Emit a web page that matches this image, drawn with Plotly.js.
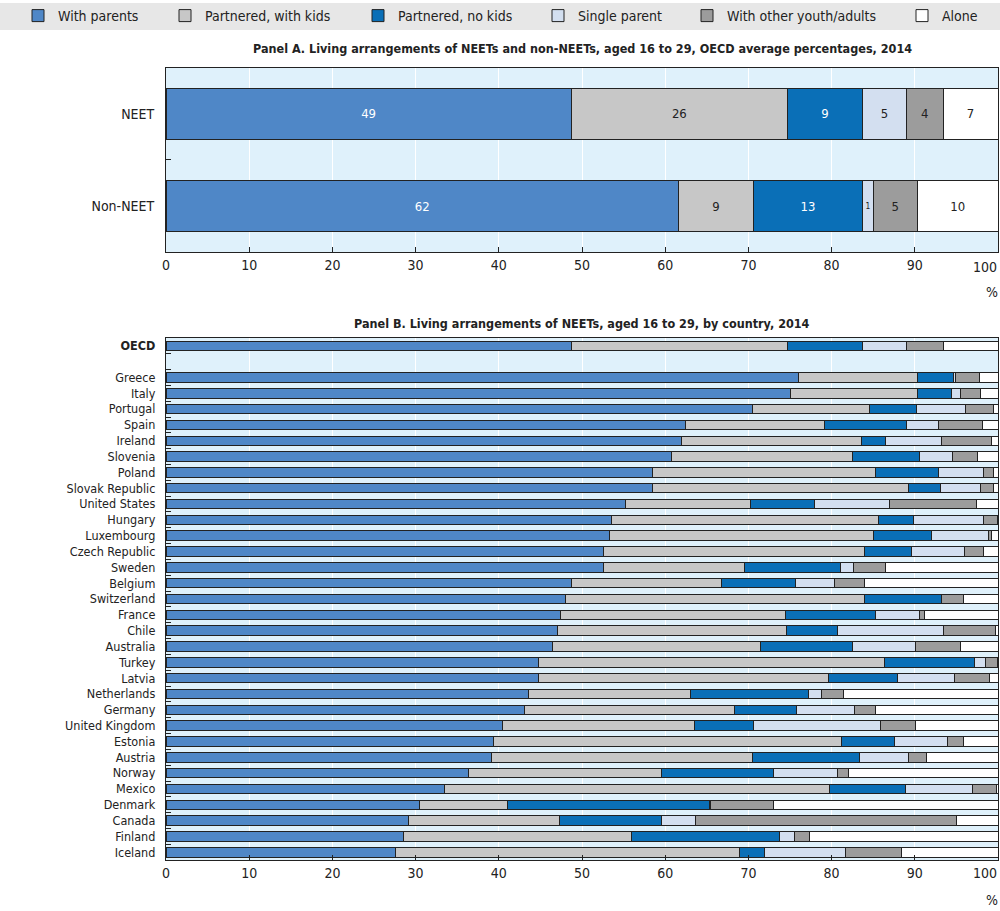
<!DOCTYPE html>
<html>
<head>
<meta charset="utf-8">
<script src="https://cdn.plot.ly/plotly-3.0.1.min.js"></script>
<style>html,body{margin:0;padding:0;background:#fff}#chart{width:1000px;height:911px}</style>
</head>
<body>
<div id="chart"></div>
<script>
// ---------- DATA ----------
const seriesNames = ["With parents", "Partnered, with kids", "Partnered, no kids", "Single parent", "With other youth/adults", "Alone"];

// Panel A
const groupsA = ["NEET", "Non-NEET"];
const aWithParents     = [48.7, 61.6];
const aPartneredKids   = [26.0, 9.0];
const aPartneredNoKids = [9.0, 13.1];
const aSingleParent    = [5.3, 1.3];
const aOtherAdults     = [4.4, 5.3];
const aAlone           = [6.6, 9.7];

// Panel B
const countries = ["OECD", "Greece", "Italy", "Portugal", "Spain", "Ireland", "Slovenia", "Poland", "Slovak Republic", "United States", "Hungary", "Luxembourg", "Czech Republic", "Sweden", "Belgium", "Switzerland", "France", "Chile", "Australia", "Turkey", "Latvia", "Netherlands", "Germany", "United Kingdom", "Estonia", "Austria", "Norway", "Mexico", "Denmark", "Canada", "Finland", "Iceland"];
const bWithParents     = [48.7, 76.0, 75.0, 70.5, 62.4, 62.0, 60.8, 58.5, 58.5, 55.2, 53.6, 53.3, 52.6, 52.6, 48.7, 48.0, 47.4, 47.0, 46.4, 44.8, 44.8, 43.6, 43.1, 40.4, 39.4, 39.1, 36.3, 33.5, 30.5, 29.2, 28.6, 27.6];
const bPartneredKids   = [26.0, 14.3, 15.3, 14.1, 16.8, 21.6, 21.7, 26.8, 30.8, 15.1, 32.0, 31.7, 31.4, 16.9, 18.1, 35.9, 27.1, 27.6, 25.1, 41.6, 34.8, 19.5, 25.2, 23.1, 41.8, 31.4, 23.2, 46.2, 10.5, 18.1, 27.3, 41.3];
const bPartneredNoKids = [9.0, 4.3, 4.1, 5.6, 9.8, 2.9, 8.1, 7.6, 3.8, 7.6, 4.3, 7.0, 5.6, 11.6, 8.9, 9.3, 10.8, 6.1, 11.0, 10.8, 8.3, 14.1, 7.5, 7.1, 6.3, 12.8, 13.5, 9.2, 24.3, 12.3, 17.8, 3.0];
const bSingleParent    = [5.3, 0.3, 1.1, 5.9, 3.9, 6.7, 3.9, 5.3, 4.8, 9.1, 8.4, 6.8, 6.4, 1.5, 4.7, 0.0, 5.3, 12.8, 7.6, 1.3, 6.9, 1.6, 6.9, 15.3, 6.4, 5.9, 7.7, 8.0, 0.2, 4.1, 1.9, 9.8];
const bOtherAdults     = [4.4, 2.9, 2.4, 3.4, 5.2, 6.0, 3.0, 1.3, 1.6, 10.4, 1.6, 0.4, 2.3, 3.9, 3.6, 2.7, 0.6, 6.2, 5.4, 1.4, 4.2, 2.6, 2.6, 4.2, 2.0, 2.2, 1.3, 2.9, 7.5, 31.3, 1.8, 6.7];
const bAlone           = [6.6, 2.2, 2.1, 0.5, 1.9, 0.8, 2.5, 0.5, 0.5, 2.6, 0.1, 0.8, 1.7, 13.5, 16.0, 4.1, 8.8, 0.3, 4.5, 0.1, 1.0, 18.6, 14.7, 9.9, 4.1, 8.6, 18.0, 0.2, 27.0, 5.0, 22.6, 11.6];

const xTicks = [0, 10, 20, 30, 40, 50, 60, 70, 80, 90, 100];

// ---------- STYLE ----------
const colors = ["#4f87c7", "#c7c7c7", "#0a6fb7", "#d3dff0", "#9c9c9c", "#ffffff"];
const textColors = ["#ffffff", "#222222", "#ffffff", "#222222", "#222222", "#222222"];
const FONT = "'DejaVu Sans Condensed', 'Liberation Sans Narrow', 'Arial Narrow', sans-serif";
const W = 1000, H = 911, L = 166, R = 2, PW = W - L - R;
const px2x = p => (p - L) / PW;
const py2y = p => 1 - p / H;
const xMax = xTicks[xTicks.length - 1];
// the last tick label is drawn as a right-aligned annotation so it stays inside the picture
const xTickText = xTicks.map(v => v === xMax ? "" : String(v));

const seriesA = [aWithParents, aPartneredKids, aPartneredNoKids, aSingleParent, aOtherAdults, aAlone];
const seriesB = [bWithParents, bPartneredKids, bPartneredNoKids, bSingleParent, bOtherAdults, bAlone];

// Panel B categories: bold OECD, blank row, then countries
const BLANK = " ";
const yB = [];
countries.forEach((c, i) => { yB.push(c === "OECD" ? "<b>OECD</b>" : c); if (i === 0) yB.push(BLANK); });
function withBlank(arr) { const out = []; arr.forEach((v, i) => { out.push(v); if (i === 0) out.push(null); }); return out; }

const legendNames = ["legend", "legend2", "legend3", "legend4", "legend5", "legend6"];
const traces = [];
seriesA.forEach((vals, k) => {
  traces.push({
    type: "bar", orientation: "h", name: seriesNames[k],
    y: groupsA, x: vals, xaxis: "x", yaxis: "y",
    width: 0.56,
    marker: { color: colors[k], line: { color: "#222", width: 1 } },
    text: vals.map(v => String(Math.round(v))),
    textposition: "inside", insidetextanchor: "middle",
    textfont: { family: FONT, size: 13, color: textColors[k] },
    legend: legendNames[k], showlegend: true,
    hoverinfo: "x+y+name"
  });
});
seriesB.forEach((vals, k) => {
  traces.push({
    type: "bar", orientation: "h", name: seriesNames[k],
    y: yB, x: withBlank(vals), xaxis: "x2", yaxis: "y2",
    width: 0.6,
    marker: { color: colors[k], line: { color: "#222", width: 1 } },
    textposition: "none",
    showlegend: false,
    hoverinfo: "x+y+name"
  });
});

// legend positions (px of symbol centre)
const legendX = [38, 185, 378, 558, 707, 922];
const legends = {};
legendNames.forEach((ln, k) => {
  legends[ln] = {
    orientation: "h", x: px2x(legendX[k] - 20), xanchor: "left",
    y: py2y(13), yanchor: "middle",
    bgcolor: "rgba(0,0,0,0)", borderwidth: 0,
    font: { family: FONT, size: 14, color: "#222" },
    itemwidth: 30, itemclick: false, itemdoubleclick: false
  };
});

const gridStyle = { showgrid: true, gridcolor: "#ffffff", gridwidth: 1 };
const axisLine = { showline: true, linecolor: "#222", linewidth: 1, mirror: true };
const tickFont = { family: FONT, size: 14, color: "#222" };

const layout = Object.assign({
  width: W, height: H,
  margin: { l: L, r: R, t: 0, b: 0, pad: 0 },
  paper_bgcolor: "#ffffff", plot_bgcolor: "#dff1fb",
  barmode: "stack",
  font: { family: FONT, size: 14, color: "#222" },
  uniformtext: { mode: "show", minsize: 13 },
  xaxis: Object.assign({
    domain: [0, 1], anchor: "y", range: [0, xMax], tickmode: "array", tickvals: xTicks, ticktext: xTickText,
    ticks: "inside", ticklen: 5, tickcolor: "#222", zeroline: false,
    tickfont: tickFont
  }, gridStyle, axisLine),
  yaxis: Object.assign({
    domain: [py2y(250), py2y(65)], anchor: "x", type: "category",
    autorange: "reversed", showgrid: false, zeroline: false,
    ticks: "inside", ticklen: 5, tickcolor: "#222", tickson: "boundaries",
    ticksuffix: "  ", tickfont: tickFont
  }, axisLine),
  xaxis2: Object.assign({
    domain: [0, 1], anchor: "y2", range: [0, xMax], tickmode: "array", tickvals: xTicks, ticktext: xTickText,
    ticks: "inside", ticklen: 5, tickcolor: "#222", zeroline: false,
    tickfont: tickFont
  }, gridStyle, axisLine),
  yaxis2: Object.assign({
    domain: [py2y(860), py2y(336)], anchor: "x2", type: "category",
    categoryorder: "array", categoryarray: yB,
    autorange: "reversed", showgrid: false, zeroline: false,
    ticks: "inside", ticklen: 5, tickcolor: "#222", tickson: "boundaries",
    ticksuffix: "  ", tickfont: { family: FONT, size: 12.5, color: "#222" }
  }, axisLine),
  shapes: [{
    type: "rect", xref: "paper", yref: "paper",
    x0: px2x(0), x1: px2x(1000), y0: py2y(27), y1: 1,
    fillcolor: "#e7e7e7", line: { width: 0 }, layer: "below"
  }],
  annotations: [
    { xref: "paper", yref: "paper", x: 0.5, y: py2y(46), xanchor: "center", yanchor: "middle", showarrow: false,
      text: "<b>Panel A. Living arrangements of NEETs and non-NEETs, aged 16 to 29, OECD average percentages, 2014</b>",
      font: { family: FONT, size: 12.5, color: "#222" } },
    { xref: "paper", yref: "paper", x: 0.5, y: py2y(322), xanchor: "center", yanchor: "middle", showarrow: false,
      text: "<b>Panel B. Living arrangements of NEETs, aged 16 to 29, by country, 2014</b>",
      font: { family: FONT, size: 12.5, color: "#222" } },
    { xref: "x", yref: "paper", x: xMax, y: py2y(265), xanchor: "right", yanchor: "middle", showarrow: false,
      text: String(xMax), font: tickFont, xshift: 1 },
    { xref: "x2", yref: "paper", x: xMax, y: py2y(873), xanchor: "right", yanchor: "middle", showarrow: false,
      text: String(xMax), font: tickFont, xshift: 1 },
    { xref: "paper", yref: "paper", x: px2x(992), y: py2y(290), xanchor: "center", yanchor: "middle", showarrow: false,
      text: "%", font: tickFont },
    { xref: "paper", yref: "paper", x: px2x(992), y: py2y(900), xanchor: "center", yanchor: "middle", showarrow: false,
      text: "%", font: tickFont }
  ]
}, legends);

Plotly.newPlot("chart", traces, layout, { displayModeBar: false, staticPlot: true });
</script>
</body>
</html>
